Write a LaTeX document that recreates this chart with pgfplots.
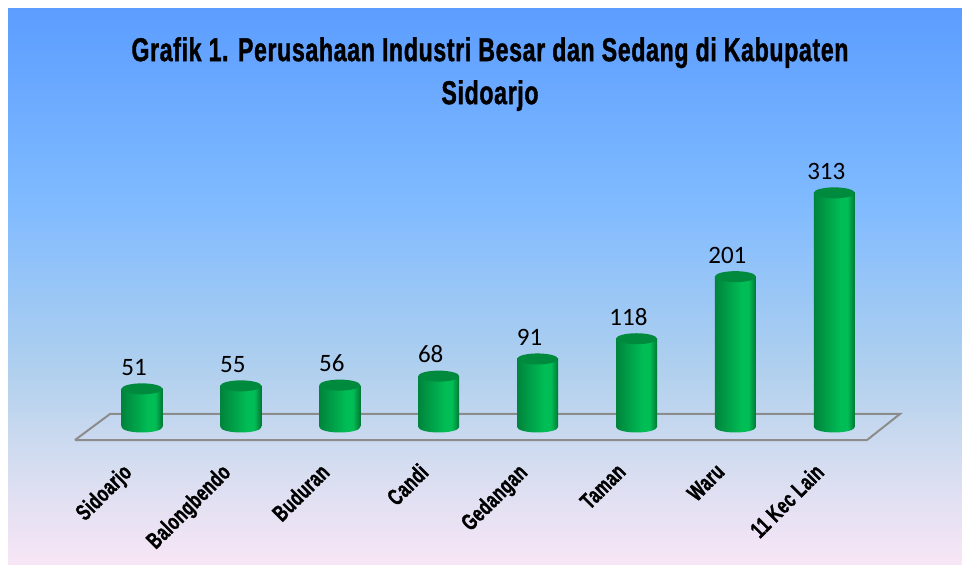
\documentclass[border=0pt]{standalone}
\usepackage{fontspec}
\usepackage{pgfplots}
\pgfplotsset{compat=1.18}
\newfontfamily\carlito{Carlito}
\newfontfamily\agency[FakeStretch=0.70,LetterSpace=2,FakeBold=1.2]{Liberation Sans Bold}
\definecolor{cyldark}{HTML}{00843C}
\definecolor{cyllite}{HTML}{00BE55}
\definecolor{cyltopc}{HTML}{008A3E}
\definecolor{floorc}{HTML}{8C8C8C}
\pgfdeclarehorizontalshading{cyl}{100bp}{color(0bp)=(cyldark); color(25bp)=(cyldark); color(58bp)=(cyllite); color(66bp)=(cyllite); color(75bp)=(cyldark!90!black); color(100bp)=(cyldark!90!black)}
\definecolor{bga}{HTML}{F8E6F6}
\definecolor{bgb}{HTML}{D5DDF0}
\definecolor{bgc}{HTML}{B0D0EE}
\definecolor{bgd}{HTML}{80BBFF}
\definecolor{bge}{HTML}{5C9DFF}
\pgfdeclareverticalshading{bgshade}{100bp}{color(0bp)=(bga); color(25bp)=(bga); color(34bp)=(bgb); color(42.5bp)=(bgc); color(57.4bp)=(bgd); color(75bp)=(bge); color(100bp)=(bge)}
\pgfdeclareplotmark{cylbase}{\shade[draw=none,shading=cyl,rotate=-5] (canvas cs:x=0pt,y=0pt) ellipse [x radius=20.5pt,y radius=5.5pt];}
\pgfdeclareplotmark{cyltop}{\fill[draw=none,cyltopc,rotate=-5] (canvas cs:x=0pt,y=0pt) ellipse [x radius=20.5pt,y radius=5.5pt];}
\pgfplotsset{cylbar/.style={ybar,bar width=41pt,bar shift=0pt,draw=none,shade,shading=cyl}}
\begin{document}
\begin{tikzpicture}[x=1pt,y=1pt]
\path[fill=white] (0,0) rectangle (962,565);
\shade[shading=bgshade] (8,0) rectangle (962,556);
\begin{axis}[
  at={(0pt,0pt)},anchor=south west,
  width=962pt,height=565pt,scale only axis,
  xmin=-1.4358,xmax=8.2912,
  ymin=-184.49,ymax=570.86,
  clip=false,
  axis line style={draw=none},
  major tick style={draw=none},
  ytick=\empty,
  xtick={0,1,2,3,4,5,6,7},
  xticklabels={Sidoarjo,Balongbendo,Buduran,Candi,Gedangan,Taman,Waru,11 Kec Lain},
  xticklabel style={font=\agency\fontsize{23}{23}\selectfont,rotate=45,anchor=north east,yshift=91pt,xshift=61.5pt},
  title={Grafik 1. Perusahaan Industri Besar dan Sedang di Kabupaten\\Sidoarjo},
  title style={at={(490pt,522pt)},anchor=north,align=center,font=\agency\fontsize{33}{43}\selectfont,inner sep=0pt},
  /pgf/number format/assume math mode=true,
]
\addplot[floorc,line width=2pt,no marks] coordinates {(-0.6775,-17.4) (-0.3236,17.4) (7.664,17.4) (7.331,-17.4) (-0.6775,-17.4)};
\addplot[only marks,mark=cylbase] coordinates {(0,0)(1,0)(2,0)(3,0)(4,0)(5,0)(6,0)(7,0)};
\addplot[cylbar] coordinates {(0,51)};
\addplot[cylbar] coordinates {(1,55)};
\addplot[cylbar] coordinates {(2,56)};
\addplot[cylbar] coordinates {(3,68)};
\addplot[cylbar] coordinates {(4,91)};
\addplot[cylbar] coordinates {(5,118)};
\addplot[cylbar] coordinates {(6,201)};
\addplot[cylbar] coordinates {(7,313)};
\addplot[only marks,mark=cyltop,nodes near coords,
  every node near coord/.append style={font=\carlito\fontsize{25}{25}\selectfont,anchor=base,xshift=-8pt,yshift=13.5pt,text=black}]
  coordinates {(0,51)(1,55)(2,56)(3,68)(4,91)(5,118)(6,201)(7,313)};
\end{axis}
\end{tikzpicture}
\end{document}
